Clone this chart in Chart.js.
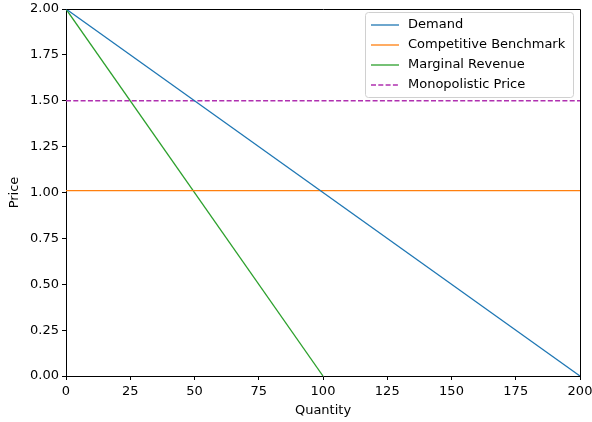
<!DOCTYPE html>
<html lang="en">
<head>
  <meta charset="UTF-8">
  <title>Monopoly pricing</title>
  <script src="https://cdn.jsdelivr.net/npm/chart.js"></script>
  <style>
    html, body { margin: 0; padding: 0; background: #fff; }
    #wrap { width: 592px; height: 422px; }
  </style>
</head>
<body>
  <div id="wrap"><canvas id="chart" width="592" height="422"></canvas></div>
  <script>
    // quantities / prices
    const demandQ = [0, 200];
    const demandP = [2, 0];
    const benchQ = [0, 200];
    const benchP = [1.01, 1.01];
    const mrQ = [0, 100];
    const mrP = [2, 0];
    const monoQ = [0, 200];
    const monoP = [1.5, 1.5];
    const seriesNames = ['Demand', 'Competitive Benchmark', 'Marginal Revenue', 'Monopolistic Price'];
    const seriesColors = ['#1f77b4', '#ff7f0e', '#2ca02c', '#b030b0'];
    const xTicks = [0, 25, 50, 75, 100, 125, 150, 175, 200];
    const yTicks = [0, 0.25, 0.5, 0.75, 1, 1.25, 1.5, 1.75, 2];

    const pts = (xs, ys) => xs.map((x, i) => ({ x: x, y: ys[i] }));
    const FONT = 'DejaVu Sans';

    // matplotlib style legend box in the upper right corner + top/right spines
    const boxLegend = {
      id: 'boxLegend',
      afterDraw(chart) {
        const ctx = chart.ctx;
        const a = chart.chartArea;
        ctx.save();
        ctx.strokeStyle = '#000';
        ctx.lineWidth = 1;
        ctx.beginPath();
        ctx.moveTo(Math.round(a.left) + 0.5, Math.round(a.top) + 0.5);
        ctx.lineTo(Math.round(a.right) + 0.5, Math.round(a.top) + 0.5);
        ctx.lineTo(Math.round(a.right) + 0.5, Math.round(a.bottom) + 0.5);
        ctx.stroke();

        const x0 = 365, y0 = 12, w = a.right - 7 - x0, h = 85;
        ctx.fillStyle = 'rgba(255,255,255,0.8)';
        ctx.strokeStyle = '#d0d0d0';
        ctx.beginPath();
        ctx.roundRect(x0 + 0.5, y0 + 0.5, w, h, 3);
        ctx.fill();
        ctx.stroke();
        ctx.font = '13px "' + FONT + '"';
        ctx.textBaseline = 'middle';
        chart.data.datasets.forEach((ds, i) => {
          const yy = y0 + 13 + i * 20;
          ctx.strokeStyle = ds.borderColor;
          ctx.lineWidth = ds.borderWidth;
          ctx.setLineDash(ds.borderDash || []);
          ctx.beginPath();
          ctx.moveTo(x0 + 6, yy);
          ctx.lineTo(x0 + 34, yy);
          ctx.stroke();
          ctx.setLineDash([]);
          ctx.fillStyle = '#000';
          ctx.fillText(ds.label, x0 + 43, yy);
        });
        ctx.restore();
      }
    };

    const makeSet = (i, data, dash) => ({
      label: seriesNames[i],
      data: data,
      borderColor: seriesColors[i],
      backgroundColor: seriesColors[i],
      borderWidth: 1.3,
      borderDash: dash,
      pointRadius: 0,
      fill: false,
      showLine: true,
      tension: 0
    });

    new Chart(document.getElementById('chart'), {
      type: 'scatter',
      data: {
        datasets: [
          makeSet(0, pts(demandQ, demandP)),
          makeSet(1, pts(benchQ, benchP)),
          makeSet(2, pts(mrQ, mrP)),
          makeSet(3, pts(monoQ, monoP), [5, 2.3])
        ]
      },
      options: {
        responsive: false,
        animation: false,
        layout: { padding: { left: 0, top: 9, right: 12, bottom: 0 } },
        plugins: { legend: { display: false }, tooltip: { enabled: false } },
        scales: {
          x: {
            type: 'linear', min: 0, max: 200,
            afterBuildTicks: s => { s.ticks = xTicks.map(v => ({ value: v })); },
            afterFit: s => { s.height = 46; s.paddingRight = 0; s.paddingLeft = 0; },
            border: { color: '#000', width: 1 },
            grid: { drawOnChartArea: false, tickLength: 4, tickColor: '#000' },
            ticks: { color: '#000', font: { family: FONT, size: 13 }, padding: 4, maxRotation: 0 },
            title: { display: true, text: 'Quantity', color: '#000', font: { family: FONT, size: 13 }, padding: { top: 0, bottom: 4 } }
          },
          y: {
            type: 'linear', min: 0, max: 2,
            afterBuildTicks: s => { s.ticks = yTicks.map(v => ({ value: v })); },
            afterFit: s => { s.width = 66; s.paddingTop = 0; s.paddingBottom = 0; },
            border: { color: '#000', width: 1 },
            grid: { drawOnChartArea: false, tickLength: 4, tickColor: '#000' },
            ticks: { color: '#000', font: { family: FONT, size: 13 }, padding: 3, callback: v => v.toFixed(2) },
            title: { display: true, text: 'Price', color: '#000', font: { family: FONT, size: 13 }, padding: { top: 7, bottom: 0 } }
          }
        }
      },
      plugins: [boxLegend]
    });
  </script>
</body>
</html>
